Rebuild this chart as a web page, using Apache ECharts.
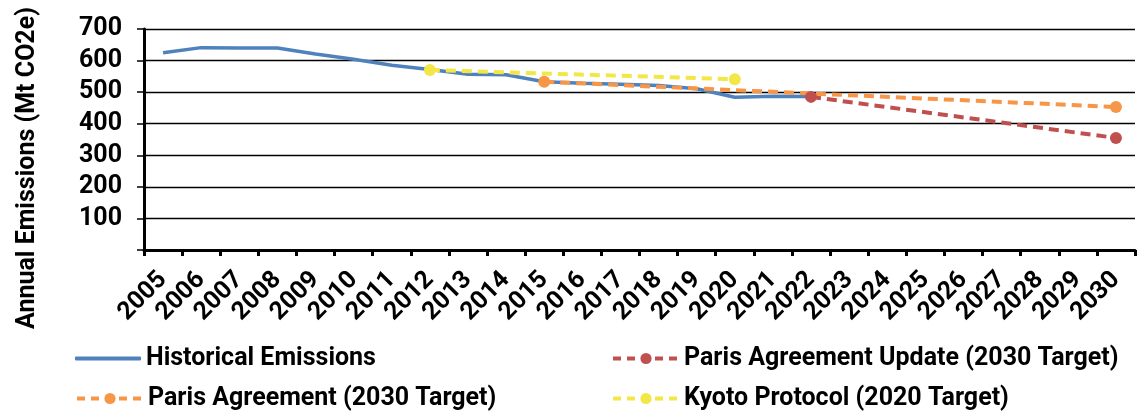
<!DOCTYPE html>
<html>
<head>
<meta charset="utf-8">
<script src="https://cdn.jsdelivr.net/npm/echarts@6/dist/echarts.min.js"></script>
<style>html,body{margin:0;padding:0;background:#fff}#c{width:1137px;height:416px}</style>
</head>
<body>
<div id="c"></div>
<script>
const years = ['2005','2006','2007','2008','2009','2010','2011','2012','2013','2014','2015','2016','2017','2018','2019','2020','2021','2022','2023','2024','2025','2026','2027','2028','2029','2030'];
const historical = [625,641,640,640,621,604,585,572,557,555,533,528,525,521,511,484,487,486,null,null,null,null,null,null,null,null];
const parisUpdate = [null,null,null,null,null,null,null,null,null,null,null,null,null,null,null,null,null,485,null,null,null,null,null,null,null,355];
const paris = [null,null,null,null,null,null,null,null,null,null,533,null,null,null,null,null,null,null,null,null,null,null,null,null,null,453];
const kyoto = [null,null,null,null,null,null,null,570,null,null,null,null,null,null,null,541,null,null,null,null,null,null,null,null,null,null];
const yTicks = [0,100,200,300,400,500,600,700];
const yName = 'Annual Emissions (Mt CO2e)';
const names = ['Historical Emissions','Paris Agreement Update (2030 Target)','Paris Agreement (2030 Target)','Kyoto Protocol (2020 Target)'];

const FONT = 'Roboto';
const FS = 25;
const chart = echarts.init(document.getElementById('c'), null, {renderer:'canvas'});
const dashed = (color) => ({
  type:'line', symbol:'circle', symbolSize:12, connectNulls:true,
  itemStyle:{color:color},
  lineStyle:{color:color, width:4, type:[10,6]}
});
const legendText = {fontFamily:FONT, fontWeight:'bold', fontSize:FS, color:'#000'};
const leg = (name, left, top, solid) => ({
  orient:'horizontal', left:left, top:top, padding:0, itemWidth:66, itemHeight: solid ? 4 : 14,
  data:[solid ? {name:name, icon:'roundRect'} : {name:name}],
  textStyle:legendText,
  lineStyle: solid ? undefined : {width:4, type:[8,6]}
});
chart.setOption({
  animation:false,
  grid:{left:144, right:2, top:29, bottom:166, containLabel:false},
  legend:[
    leg(names[0], 75, 346, true),
    leg(names[1], 611, 346, false),
    leg(names[2], 75, 386, false),
    leg(names[3], 611, 386, false)
  ],
  xAxis:{
    type:'category', data:years, boundaryGap:true,
    axisLine:{lineStyle:{color:'#000', width:3}},
    axisTick:{show:true, length:6, lineStyle:{color:'#000', width:3}},
    axisLabel:{rotate:45, margin:26, interval:0, fontFamily:FONT, fontWeight:'bold', fontSize:FS, color:'#000'},
    splitLine:{show:false}
  },
  yAxis:{
    type:'value', min:yTicks[0], max:yTicks[yTicks.length-1], interval:100,
    axisLine:{show:true, lineStyle:{color:'#000', width:3}},
    axisTick:{show:true, length:7, lineStyle:{color:'#000', width:1.5}},
    axisLabel:{margin:22, fontFamily:FONT, fontWeight:'bold', fontSize:FS, color:'#000',
      formatter:(v)=> v===0 ? '' : String(v)},
    splitLine:{show:true, lineStyle:{color:'#000', width:1.3}}
  },
  graphic:[{
    type:'text', x:28, y:168, rotation:Math.PI/2,
    style:{text:yName, fontFamily:FONT, fontWeight:'bold', fontSize:FS, fill:'#000', align:'center', verticalAlign:'middle'}
  }],
  series:[
    {name:names[0], type:'line', data:historical, symbol:'none', showSymbol:false,
     itemStyle:{color:'#4F81BD'}, lineStyle:{color:'#4F81BD', width:3.5}},
    Object.assign({name:names[2], data:paris}, dashed('#F79646')),
    Object.assign({name:names[1], data:parisUpdate}, dashed('#C0504D')),
    Object.assign({name:names[3], data:kyoto}, dashed('#F3E647'))
  ]
});
</script>
</body>
</html>
